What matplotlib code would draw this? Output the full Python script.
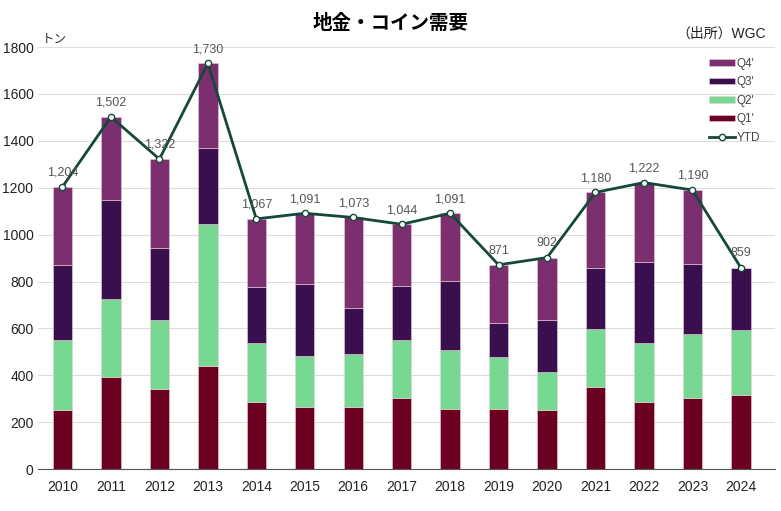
import numpy as np
import matplotlib
matplotlib.use('Agg')
import matplotlib.pyplot as plt

plt.rcParams['font.family'] = ['Liberation Sans', 'Noto Sans CJK JP', 'DejaVu Sans']

years = ['2010', '2011', '2012', '2013', '2014', '2015', '2016', '2017',
         '2018', '2019', '2020', '2021', '2022', '2023', '2024']
q1 = [250, 392, 341, 439, 286, 265, 265, 303, 256, 256, 252, 350, 286, 303, 316]
q2 = [300, 333, 295, 606, 252, 217, 226, 247, 252, 222, 162, 247, 252, 273, 277]
q3 = [320, 423, 307, 324, 238, 307, 196, 231, 294, 145, 222, 261, 345, 299, 266]
ytd = [1204, 1502, 1322, 1730, 1067, 1091, 1073, 1044, 1091, 871, 902, 1180, 1222, 1190, 859]
# Q4 is whatever is left of the year total (none yet for 2024)
q4 = [t - a - b - c for t, a, b, c in zip(ytd, q1, q2, q3)]
q4[-1] = 0

c_q1 = '#6b0020'
c_q2 = '#76d891'
c_q3 = '#3a0f4e'
c_q4 = '#7b2f6f'
c_line = '#16483a'

fig = plt.figure(figsize=(7.81, 5.11), dpi=100)
ax = fig.add_axes([0.049, 0.082, 0.943, 0.826])

x = np.arange(len(years))
w = 0.4
b1 = np.array(q1)
b2 = b1 + np.array(q2)
b3 = b2 + np.array(q3)
ec = dict(edgecolor='#e8d0dc', linewidth=0.4)
ax.bar(x, q1, w, color=c_q1, label="Q1'", zorder=2, **ec)
ax.bar(x, q2, w, bottom=b1, color=c_q2, label="Q2'", zorder=2, **ec)
ax.bar(x, q3, w, bottom=b2, color=c_q3, label="Q3'", zorder=2, **ec)
ax.bar(x, q4, w, bottom=b3, color=c_q4, label="Q4'", zorder=2, **ec)
ax.plot(x, ytd, color=c_line, lw=2, marker='o', ms=4.5, mfc='white',
        mec=c_line, mew=1, label='YTD', zorder=3)

for xi, v in zip(x, ytd):
    ax.text(xi, v + 35, f'{v:,}', ha='center', va='bottom', fontsize=9, color='#555555', zorder=4)

ax.set_xlim(-0.5, len(years) - 0.3)
ax.set_ylim(0, 1800)
ax.set_yticks(range(0, 1801, 200))
ax.set_xticks(x)
ax.set_xticklabels(years)
ax.tick_params(axis='both', length=0, labelsize=10, colors='#222222')
ax.tick_params(axis='x', pad=8)
ax.grid(axis='y', color='#dddddd', lw=0.8, zorder=0)
for s in ['top', 'right', 'left']:
    ax.spines[s].set_visible(False)
ax.spines['bottom'].set_color('#555555')

h, l = ax.get_legend_handles_labels()
order = [4, 3, 2, 1, 0]
ax.legend([h[i] for i in order], [l[i] for i in order], loc='upper right',
          bbox_to_anchor=(0.995, 1.0), frameon=False, fontsize=8.5, handlelength=2.2,
          labelspacing=0.55, handleheight=0.45, handletextpad=0.2, labelcolor='#444444')

fig.text(0.5, 0.955, '地金・コイン需要', ha='center', va='center', fontsize=14, fontweight='bold')
fig.text(0.98, 0.935, '（出所）WGC', ha='right', va='center', fontsize=10, color='#222222')
fig.text(0.053, 0.922, 'トン', ha='left', va='center', fontsize=9, color='#333333')

fig.savefig('out.png', dpi=100)
